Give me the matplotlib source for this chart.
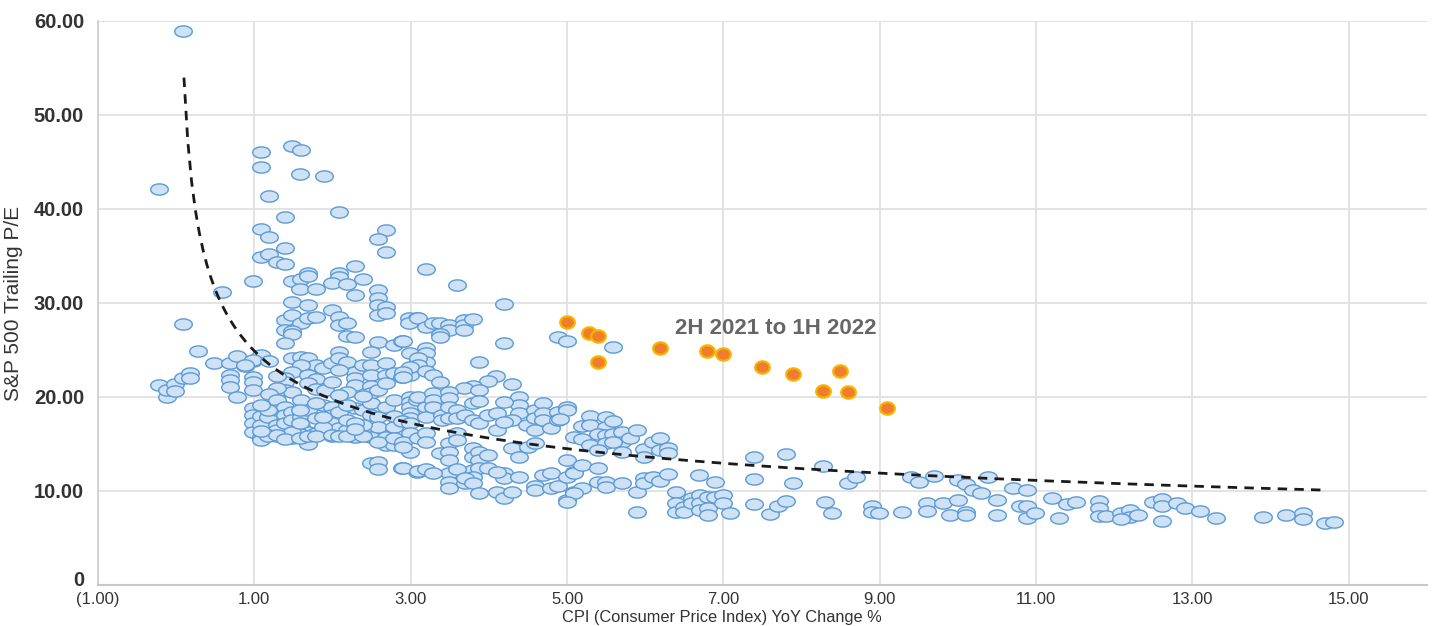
import matplotlib
matplotlib.use('Agg')
import matplotlib.pyplot as plt
import matplotlib.transforms as mtransforms
import numpy as np
from matplotlib.path import Path


# S&P 500 trailing P/E vs CPI YoY change

cpi_hist = [
    -0.22, 0.09, 0.09, -0.22, -0.12, -0.12, -0.02, -0.02, 0.09, 0.18, 0.18, 0.28, 0.48, 0.59, 0.69, 0.69, 0.69, 0.69,
    0.78, 0.78, 0.88, 0.98, 0.98, 0.98, 0.98, 0.98,
    1.08, 1.08, 1.48, 1.60, 1.58, 1.89, 1.19, 2.08, 1.39, 1.08, 1.19, 1.39, 1.08, 1.19, 1.29, 1.39, 2.68, 2.58, 2.68,
    2.29, 1.48, 1.60, 1.69, 1.69, 2.08, 2.08, 1.99, 2.18, 2.39, 1.58, 1.79, 2.29, 2.58, 2.58, 2.58, 2.68, 1.48, 1.69,
    1.99, 1.39, 1.48, 1.60, 1.69, 1.79, 1.39, 1.48, 1.48, 2.08, 2.08, 2.18, 2.18, 2.29, 1.39, 2.58, 2.68, 2.58, 2.79,
    2.89, 2.98, 3.08, 2.98, 2.49, 2.99,
    1.08, 0.98, 0.88, 1.48, 1.60, 1.69, 1.69, 1.79, 1.60, 1.48, 1.39, 1.39, 1.39, 1.48, 1.69, 1.79, 1.69, 1.79, 1.90,
    1.88, 1.99, 2.08, 2.08, 2.18, 2.29, 2.29, 2.29, 2.18, 1.99, 2.08, 2.39, 2.49, 2.49, 2.49, 2.49, 2.58, 2.68, 2.68,
    2.68, 2.79, 2.89, 2.99, 2.99, 3.08, 1.19, 1.29, 1.29, 1.19,
    0.98, 0.98, 0.98, 0.98, 1.08, 1.08, 1.08, 1.08, 1.17, 1.29, 1.29, 1.29, 1.29, 1.39, 1.39, 1.39, 1.39, 1.48, 1.48,
    1.60, 1.60, 1.60, 1.69, 1.69, 1.69, 1.79, 1.79, 1.88, 1.99, 1.99, 1.99, 2.08, 2.08, 2.18, 2.29, 2.29, 2.39, 2.49,
    2.49, 2.49, 2.49, 2.58, 2.58, 2.68, 2.68, 2.68, 2.79, 2.79, 2.79, 2.89, 2.99, 2.99, 2.99, 2.99, 2.99, 2.99, 3.08,
    3.08, 3.08, 2.49, 2.58, 2.58, 2.89,
    1.17, 1.29, 1.48, 1.58, 1.88, 1.99, 2.18, 2.39, 1.79, 2.18, 2.39, 1.17, 1.08, 1.58, 2.08, 2.29, 2.79, 2.89, 1.48,
    1.88, 1.17, 1.29, 1.39, 1.58, 1.69, 1.79, 1.99, 2.08, 2.18, 2.39, 2.58, 2.79, 1.08, 1.58, 2.29,
    3.19, 3.59, 4.19, 3.09, 3.19, 3.28, 3.38, 3.49, 3.49, 3.38, 3.38, 3.68, 3.68, 3.68, 3.80, 2.90, 4.19, 3.19, 3.19,
    3.19, 3.09, 3.09, 2.99, 3.19, 3.28, 2.90, 2.90, 3.38, 3.88, 4.09, 3.99, 4.29, 3.80, 3.68, 4.88, 5.00,
    3.09, 3.19, 3.19, 3.28, 3.28, 3.28, 3.40, 3.40, 3.49, 3.49, 3.49, 3.49, 3.59, 3.59, 3.88, 3.80, 3.88, 3.69, 3.80,
    3.88, 3.99, 4.10, 4.10, 4.38, 4.38, 4.38, 4.29, 4.19, 4.19, 4.49, 4.59, 4.59, 4.59, 4.69, 4.69, 4.69, 4.79, 4.88,
    5.00, 4.88,
    2.99, 2.99, 2.90, 2.90, 3.09, 3.19, 3.19, 3.38, 3.49, 3.49, 3.49, 3.59, 3.59, 3.80, 3.80, 3.88, 3.88, 3.99, 3.80,
    3.88, 3.99, 3.69, 3.80, 3.49, 3.49, 3.49, 3.59, 3.69, 3.69, 3.80, 4.19, 4.19, 4.29, 4.38, 4.38, 4.10, 4.50, 4.59,
    4.10, 4.19, 4.29, 3.88, 4.59, 4.59, 4.69, 4.79, 4.79, 4.89, 5.00, 5.00, 5.00, 5.09, 5.09, 2.90, 3.09, 3.19, 3.28,
    5.59, 5.00, 5.00, 4.91, 5.29, 5.19, 5.29, 5.50, 5.50, 5.59, 5.39, 5.50, 5.59, 5.70, 5.70, 5.80, 5.89, 5.09, 5.19,
    5.29, 5.50, 5.59, 5.70, 5.39, 5.99, 5.99, 6.10, 6.19, 6.19, 6.29, 6.29,
    5.09, 5.19, 5.39, 5.19, 5.09, 5.00, 5.39, 5.50, 5.50, 5.70, 5.89, 5.99, 5.99, 6.10, 6.19, 6.29, 5.89,
    6.39, 6.39, 6.39, 6.49, 6.49, 6.60, 6.60, 6.70, 6.70, 6.70, 6.80, 6.80, 6.80, 6.89, 6.89, 6.99, 6.99, 7.09, 6.69,
    7.39, 7.39, 7.80, 7.89, 8.28, 8.59, 8.69, 7.39, 7.59, 7.70, 7.80, 8.30, 8.39, 8.90, 8.90, 8.99, 9.29, 9.40, 9.50,
    9.69, 10.00, 10.10, 10.19, 10.30, 10.39, 10.70, 10.89, 11.20, 9.60, 9.60, 9.81, 9.90, 10.00, 10.10, 10.10, 10.50,
    10.50, 10.79, 10.89, 10.89, 10.99, 11.29, 11.39, 11.51, 11.80, 11.80, 11.80, 11.90, 12.09, 12.20, 12.20, 12.30,
    12.09, 12.49, 12.61, 12.61, 12.61, 12.80, 12.90, 13.10, 13.30, 13.90, 14.20, 14.41, 14.41, 14.70, 14.81,
]

pe_hist = [
    42.1, 58.9, 27.8, 21.3, 20.0, 20.7, 21.4, 20.6, 22.0, 22.5, 22.0, 24.9, 23.6, 31.2, 23.6, 22.3, 21.8, 21.1,
    24.4, 20.0, 23.3, 23.8, 22.1, 21.6, 20.7, 32.3,
    46.1, 44.5, 46.7, 46.3, 43.7, 43.5, 41.4, 39.7, 39.2, 37.9, 37.0, 35.9, 34.9, 35.2, 34.4, 34.2, 37.8, 36.8, 35.4,
    33.9, 32.3, 32.6, 33.2, 32.9, 33.2, 32.8, 32.1, 32.0, 32.5, 31.5, 31.5, 30.9, 31.4, 30.5, 29.8, 29.6, 30.1, 29.8,
    29.3, 28.2, 28.7, 27.9, 28.4, 28.5, 27.1, 27.0, 26.7, 28.5, 27.7, 27.9, 26.5, 26.4, 25.7, 28.7, 28.9, 25.9, 25.5,
    26.0, 28.4, 28.4, 27.9, 24.8, 24.7,
    24.5, 23.9, 23.4, 24.1, 24.3, 24.1, 23.2, 23.4, 23.4, 22.7, 22.0, 21.6, 20.7, 20.5, 22.3, 21.9, 21.5, 20.9, 20.7,
    23.1, 23.6, 24.8, 24.1, 23.7, 22.7, 22.0, 21.3, 20.5, 21.6, 22.9, 23.4, 23.4, 22.3, 21.2, 20.4, 20.7, 23.6, 22.3,
    21.5, 22.6, 22.1, 23.1, 22.3, 23.6, 23.8, 22.2, 21.0, 20.3,
    18.8, 18.1, 17.2, 16.3, 18.0, 17.0, 15.7, 15.4, 17.9, 19.7, 18.6, 17.0, 16.5, 18.9, 18.1, 17.2, 15.7, 18.4, 17.6,
    19.7, 17.9, 16.9, 18.6, 16.3, 15.0, 17.8, 16.2, 19.1, 18.9, 18.1, 17.2, 18.4, 16.7, 16.5, 15.7, 18.8, 18.6, 19.4,
    18.1, 16.3, 15.7, 17.9, 16.8, 18.9, 15.7, 14.9, 19.7, 16.8, 14.9, 15.2, 20.0, 19.5, 18.9, 18.3, 17.8, 14.1, 19.7,
    15.7, 12.0, 13.0, 13.1, 12.3, 12.4,
    16.0, 15.8, 15.6, 16.1, 16.8, 15.9, 17.5, 17.0, 19.4, 19.2, 20.1, 18.6, 19.2, 18.6, 20.2, 17.2, 18.0, 17.4, 16.3,
    17.9, 15.9, 16.0, 15.5, 15.6, 15.9, 15.8, 16.0, 15.8, 15.9, 15.8, 15.2, 15.6, 16.4, 17.2, 16.6,
    33.6, 31.9, 29.9, 28.4, 27.4, 27.9, 27.9, 27.7, 27.1, 26.7, 26.4, 28.2, 27.7, 27.1, 28.3, 26.0, 25.7, 25.2, 24.7,
    23.7, 24.1, 23.4, 23.2, 22.8, 22.3, 22.7, 22.1, 21.6, 23.7, 22.2, 21.7, 21.4, 21.2, 21.0, 26.4, 26.0,
    20.0, 18.9, 17.9, 20.4, 19.7, 18.9, 18.1, 17.6, 20.5, 19.9, 18.9, 17.8, 18.6, 17.8, 20.7, 19.4, 19.6, 18.1, 17.6,
    17.2, 18.1, 18.3, 16.5, 20.0, 19.1, 18.3, 17.6, 19.5, 17.3, 17.0, 18.6, 17.8, 16.5, 19.4, 18.3, 17.6, 16.7, 18.4,
    18.8, 17.6,
    17.2, 16.2, 15.2, 14.7, 15.6, 16.2, 15.2, 14.0, 15.1, 14.1, 13.3, 16.2, 15.4, 14.6, 13.6, 14.1, 13.3, 13.8, 12.2,
    12.4, 12.4, 11.2, 11.5, 11.9, 11.0, 10.3, 12.3, 10.9, 11.4, 10.9, 11.9, 11.4, 14.6, 13.6, 11.5, 12.0, 14.7, 15.1,
    9.9, 9.3, 9.9, 9.8, 10.5, 10.1, 11.7, 11.9, 10.3, 10.5, 13.3, 11.5, 9.0, 12.0, 9.9, 12.4, 12.1, 12.3, 11.9,
    25.3, 18.9, 18.6, 17.7, 18.0, 16.9, 17.0, 17.9, 16.8, 17.4, 16.1, 16.0, 16.1, 16.3, 15.2, 15.6, 16.5, 15.7, 15.5,
    14.9, 15.1, 15.2, 14.1, 14.4, 14.5, 13.6, 15.2, 15.6, 14.4, 14.6, 14.0,
    11.9, 12.8, 12.4, 10.3, 9.8, 8.8, 11.0, 11.0, 10.4, 10.9, 9.9, 11.4, 10.9, 11.5, 11.1, 11.8, 7.8,
    9.9, 8.7, 7.8, 8.3, 7.8, 9.3, 8.7, 9.6, 8.7, 8.0, 9.4, 8.2, 7.4, 11.0, 9.4, 9.6, 8.7, 7.7, 11.7,
    13.6, 11.3, 13.9, 10.9, 12.7, 10.9, 11.5, 8.6, 7.6, 8.4, 8.9, 8.8, 7.7, 8.4, 7.8, 7.7, 7.8, 11.5, 11.0,
    11.6, 11.2, 10.7, 10.1, 9.8, 11.5, 10.3, 10.1, 9.3, 8.7, 7.9, 8.7, 7.4, 9.0, 7.8, 7.4, 9.0,
    7.4, 8.4, 8.4, 7.1, 7.7, 7.1, 8.6, 8.8, 8.9, 8.2, 7.3, 7.3, 7.7, 8.0, 7.2, 7.4,
    7.0, 8.8, 9.1, 8.4, 6.8, 8.7, 8.2, 7.9, 7.1, 7.2, 7.4, 7.7, 7.0, 6.6, 6.7,
]

# 2H 2021 to 1H 2022
cpi_recent = [5.00, 5.28, 5.39, 5.39, 6.19, 6.79, 7.00, 7.49, 7.89, 8.49, 8.28, 8.59, 9.09]
pe_recent = [28.0, 26.8, 26.5, 23.7, 25.2, 24.9, 24.6, 23.2, 22.4, 22.8, 20.6, 20.5, 18.8]

# power trendline fit (y = a * x^b), as shown in the chart
trend_a = 24.9
trend_b = -0.336
trend_x_start = 0.10
trend_x_end = 14.72

xtick_vals = [-1, 1, 3, 5, 7, 9, 11, 13, 15]
xtick_labels = ['(1.00)', '1.00', '3.00', '5.00', '7.00', '9.00', '11.00', '13.00', '15.00']
ytick_vals = [0, 10, 20, 30, 40, 50, 60]
ytick_labels = ['0', '10.00', '20.00', '30.00', '40.00', '50.00', '60.00']


def ellipse_marker(ratio):
    t = np.linspace(0, 2 * np.pi, 60)
    verts = np.column_stack([np.cos(t), ratio * np.sin(t)])
    return Path(verts, closed=True)


plt.rcParams['font.family'] = ['Liberation Sans', 'DejaVu Sans']

fig = plt.figure(figsize=(14.32, 6.26), dpi=100)
ax = fig.add_axes([0.0684, 0.0655, 0.9281, 0.901])

ax.scatter(cpi_hist, pe_hist, s=160, marker=ellipse_marker(0.64),
           facecolor='#cfe1f5', edgecolor='#5b9bd5', linewidth=1.0, zorder=3)

tx = np.linspace(trend_x_start, trend_x_end, 300)
ax.plot(tx, trend_a * tx ** trend_b, color='#1a1a1a', linestyle=(0, (3.4, 2.6)),
        linewidth=2.0, zorder=4)

ax.scatter(cpi_recent, pe_recent, s=110, marker=ellipse_marker(0.85),
           facecolor='#ef7d2d', edgecolor='#f7b500', linewidth=1.6, zorder=5)

ax.text(6.38, 27.3, '2H 2021 to 1H 2022', fontsize=16, fontweight='bold',
        color='#666666', ha='left', va='center', zorder=6)

ax.set_xlim(-1, 16)
ax.set_ylim(0, 60)
ax.set_xticks(xtick_vals)
ax.set_xticklabels(xtick_labels, fontsize=12, color='#333333')
ax.set_yticks(ytick_vals)
ax.set_yticklabels(ytick_labels, fontsize=14.5, fontweight='bold', color='#333333')
ax.tick_params(axis='both', length=0)
ax.tick_params(axis='x', pad=5)
ax.tick_params(axis='y', pad=10)

# lift the "0" label a little so it clears the "(1.00)" label below it
zero_label = ax.get_yticklabels()[0]
zero_label.set_transform(zero_label.get_transform() +
                         mtransforms.ScaledTranslation(0, 5 / 72, fig.dpi_scale_trans))

ax.grid(True, color='#e0e0e0', linewidth=1.3, zorder=0)
ax.set_axisbelow(True)
ax.axhline(60, color='#e0e0e0', linewidth=1.3, zorder=0)
for side in ['top', 'right']:
    ax.spines[side].set_visible(False)
ax.spines['left'].set_color('#d0d0d0')
ax.spines['bottom'].set_color('#c8c8c8')
ax.spines['left'].set_linewidth(1.3)
ax.spines['bottom'].set_linewidth(1.5)

ax.set_ylabel('S&P 500 Trailing P/E', fontsize=15, color='#333333', labelpad=8)
fig.text(0.504, 0.006, 'CPI (Consumer Price Index) YoY Change %', fontsize=11.8,
         color='#333333', ha='center', va='baseline')

plt.savefig('out.png', dpi=100)
plt.close()
